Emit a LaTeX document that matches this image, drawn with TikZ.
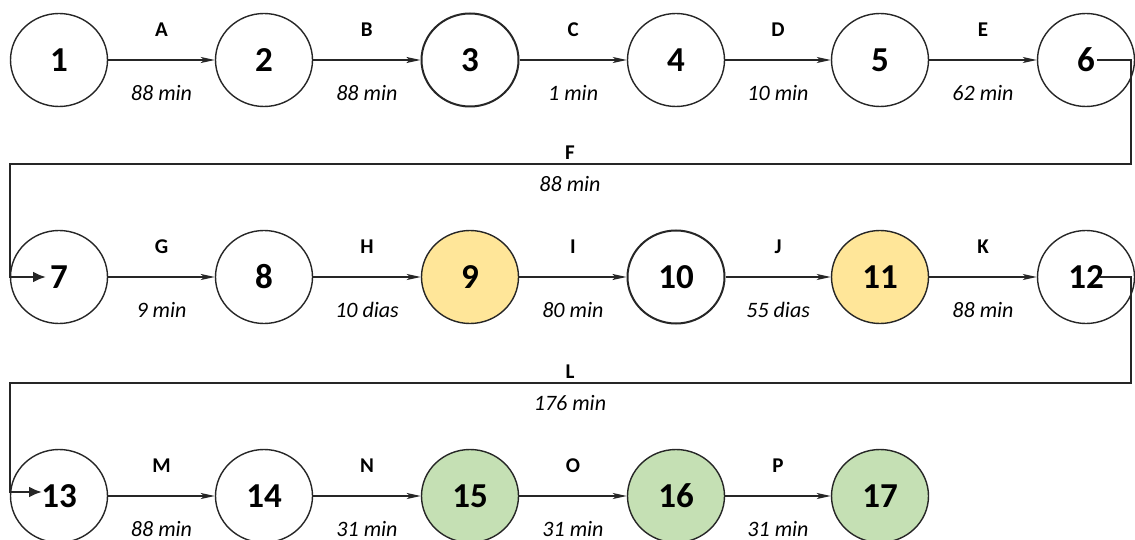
\documentclass[tikz,border=0pt]{standalone}
\usepackage{fontspec}
\setmainfont{Carlito}
\usetikzlibrary{arrows.meta,shapes.geometric}
\definecolor{nodeyellow}{HTML}{FFE699}
\definecolor{nodegreen}{HTML}{C5E0B4}
\definecolor{linegray}{HTML}{262626}
\tikzset{
  evt/.style={ellipse,draw=linegray,line width=1.4pt,fill=white,inner sep=0pt,
    minimum width=97pt,minimum height=93pt,font=\fontsize{35}{37}\selectfont\bfseries},
  evtbold/.style={evt,line width=2pt},
  crit/.style={evt,fill=nodeyellow},
  done/.style={evt,fill=nodegreen},
  act/.style={draw=linegray,line width=1.3pt,-{Stealth[length=14pt,width=6pt,inset=3pt]}},
  loop/.style={draw=linegray,line width=2.4pt,-{Latex[length=13pt,width=11pt]}},
  lbl/.style={font=\fontsize{21}{23}\selectfont\bfseries,inner sep=0pt,yshift=30pt},
  dur/.style={font=\fontsize{22}{24}\selectfont\itshape,inner sep=0pt,yshift=-33pt},
  flbl/.style={font=\fontsize{21}{23}\selectfont\bfseries,inner sep=0pt,anchor=south},
  fdur/.style={font=\fontsize{22}{24}\selectfont\itshape,inner sep=0pt,anchor=north}
}
\begin{document}
\begin{tikzpicture}[x=1pt,y=-1pt]
\useasboundingbox (0,0) rectangle (1135,540);
% row 1
\node[evt] (n1) at (59,60) {1};
\node[evt] (n2) at (264,60) {2};
\node[evtbold] (n3) at (470,60) {3};
\node[evt] (n4) at (676,60) {4};
\node[evt] (n5) at (880,60) {5};
\node[evt] (n6) at (1086,60) {6};
% row 2
\node[evt] (n7) at (59,277) {7};
\node[evt] (n8) at (264,277) {8};
\node[crit] (n9) at (470,277) {9};
\node[evtbold] (n10) at (676,277) {10};
\node[crit] (n11) at (880,277) {11};
\node[evt] (n12) at (1086,277) {12};
% row 3
\node[evt] (n13) at (59,496) {13};
\node[evt] (n14) at (264,496) {14};
\node[done] (n15) at (470,496) {15};
\node[done] (n16) at (676,496) {16};
\node[done] (n17) at (880,496) {17};
% row 1 activities
\draw[act] (n1) -- node[lbl]{A} node[dur]{88 min} (n2);
\draw[act] (n2) -- node[lbl]{B} node[dur]{88 min} (n3);
\draw[act] (n3) -- node[lbl]{C} node[dur]{1 min} (n4);
\draw[act] (n4) -- node[lbl]{D} node[dur]{10 min} (n5);
\draw[act] (n5) -- node[lbl]{E} node[dur]{62 min} (n6);
% row 2 activities
\draw[act] (n7) -- node[lbl]{G} node[dur]{9 min} (n8);
\draw[act] (n8) -- node[lbl]{H} node[dur]{10 dias} (n9);
\draw[act] (n9) -- node[lbl]{I} node[dur]{80 min} (n10);
\draw[act] (n10) -- node[lbl]{J} node[dur]{55 dias} (n11);
\draw[act] (n11) -- node[lbl]{K} node[dur]{88 min} (n12);
% row 3 activities
\draw[act] (n13) -- node[lbl]{M} node[dur]{88 min} (n14);
\draw[act] (n14) -- node[lbl]{N} node[dur]{31 min} (n15);
\draw[act] (n15) -- node[lbl]{O} node[dur]{31 min} (n16);
\draw[act] (n16) -- node[lbl]{P} node[dur]{31 min} (n17);
% loop F
\coordinate (f1) at (1131,164);
\coordinate (f2) at (10,164);
\coordinate (fm) at (570,164);
\draw[loop] ([xshift=11pt]n6.center) -| (f1) -- (f2) |- ([xshift=-13pt]n7.center);
\node[flbl] (fl) at ([yshift=4pt]fm) {F};
\node[fdur] (fd) at ([yshift=-12pt]fm) {88 min};
% loop L
\coordinate (l1) at (1131,383);
\coordinate (l2) at (10,383);
\coordinate (lm) at (570,383);
\draw[loop] ([xshift=14pt]n12.center) -| (l1) -- (l2) |- ([xshift=-17pt,yshift=4pt]n13.center);
\node[flbl] (ll) at ([yshift=4pt]lm) {L};
\node[fdur] (ld) at ([yshift=-12pt]lm) {176 min};
\end{tikzpicture}
\end{document}
